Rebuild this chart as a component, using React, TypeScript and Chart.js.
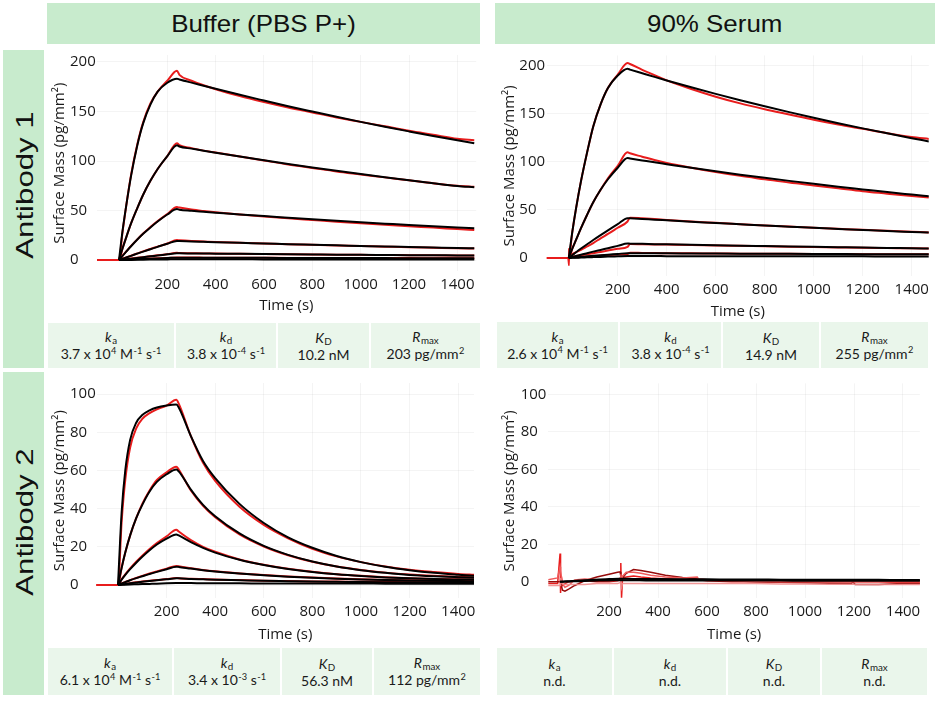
import React, { useEffect, useRef } from 'react';
import { Chart, registerables } from 'chart.js';
Chart.register(...registerables);

// ---------- shared time axis (s) ----------
const TIME = [-90, 0, 15, 30, 50, 75, 100, 130, 160, 200, 240, 250, 300, 350, 400, 500, 600, 700, 800, 900, 1000, 1100, 1200, 1300, 1400, 1470];
const X_TICKS = [200, 400, 600, 800, 1000, 1200, 1400];
const Y_TICKS_200 = [0, 50, 100, 150, 200];
const Y_TICKS_100 = [0, 20, 40, 60, 80, 100];

// ---------- Antibody 1, buffer ----------
const ab1BufFit1 = [null, 0, 30, 55, 85, 115, 138, 157, 170, 179, 183, 182.3, 179.1, 176, 172.9, 166.8, 161, 155.3, 149.9, 144.6, 139.5, 134.6, 129.9, 125.3, 120.9, 118];
const ab1BufFit2 = [null, 0, 12, 23, 37, 52, 66, 80, 92, 105, 116, 114.6, 112.5, 110.4, 108.4, 104.5, 100.7, 97, 93.5, 90.1, 86.8, 83.6, 80.6, 77.6, 74.8, 73.5];
const ab1BufFit3 = [null, 0, 4.3, 8.5, 14, 20.5, 26.5, 33, 39, 46, 51.5, 50.8, 49.7, 48.8, 47.9, 46.1, 44.4, 42.8, 41.2, 39.7, 38.2, 36.8, 35.4, 34.1, 32.9, 32.1];
const ab1BufFit4 = [null, 0, 1.3, 2.6, 4.3, 6.5, 8.6, 11, 13.4, 16.5, 19.3, 19.2, 18.9, 18.5, 18.1, 17.4, 16.8, 16.1, 15.5, 14.9, 14.3, 13.7, 13.2, 12.7, 12.2, 11.9];
const ab1BufFit5 = [null, 0, 0.5, 0.9, 1.5, 2.2, 2.9, 3.8, 4.6, 5.8, 6.9, 6.8, 6.7, 6.6, 6.5, 6.3, 6.1, 5.9, 5.7, 5.5, 5.4, 5.2, 5, 4.9, 4.7, 4.6];
const ab1BufFit6 = [null, 0, 0.2, 0.4, 0.6, 0.9, 1.1, 1.4, 1.7, 2.1, 2.5, 2.5, 2.5, 2.4, 2.4, 2.3, 2.3, 2.2, 2.1, 2.1, 2, 2, 1.9, 1.9, 1.8, 1.8];
const ab1BufFit7 = [null, 0, 0.1, 0.1, 0.2, 0.3, 0.4, 0.5, 0.6, 0.7, 0.8, 0.8, 0.8, 0.8, 0.8, 0.8, 0.7, 0.7, 0.7, 0.7, 0.7, 0.7, 0.6, 0.6, 0.6, 0.6];
const ab1BufData1 = [0, 0, 29, 55, 86, 116, 139, 158, 170, 181, 191, 187, 181, 176.5, 172.5, 165.5, 159.5, 154, 149, 144, 139.5, 135, 130.5, 126.5, 122.5, 121];
const ab1BufData2 = [0, 0, 12, 23, 37, 52, 66, 80, 92, 105, 118, 116, 113, 110.5, 108.5, 104.5, 100.5, 96.5, 93, 89.5, 86.5, 83.5, 80.5, 77.5, 75, 74];
const ab1BufData3 = [0, 0, 4.5, 8.7, 14.3, 20.7, 26.8, 33.3, 39.4, 46.5, 53.5, 53, 51, 49.5, 48.2, 46, 44, 42.2, 40.5, 38.8, 37.2, 35.7, 34.2, 32.8, 31.3, 30.3];
const ab1BufData4 = [0, 0, 1.4, 2.7, 4.4, 6.6, 8.8, 11.2, 13.6, 16.8, 20.2, 20, 19.3, 18.8, 18.3, 17.5, 16.8, 16.1, 15.4, 14.8, 14.2, 13.6, 13, 12.5, 12, 11.7];
const ab1BufData5 = [0, 0, 0.5, 1, 1.6, 2.3, 3, 3.9, 4.8, 6, 7.3, 7.1, 6.9, 6.7, 6.6, 6.3, 6.1, 5.9, 5.7, 5.5, 5.3, 5.1, 5, 4.8, 4.7, 4.6];
const ab1BufData6 = [0, 0, 0.2, 0.4, 0.7, 1, 1.2, 1.5, 1.8, 2.2, 2.7, 2.6, 2.6, 2.5, 2.4, 2.4, 2.3, 2.2, 2.2, 2.1, 2.1, 2, 2, 1.9, 1.9, 1.8];

// ---------- Antibody 1, 90% serum ----------
const ab1SerFit1 = [null, 0, 28, 52, 80, 110, 137, 160, 177, 190, 197, 196.2, 192.4, 188.6, 184.9, 177.8, 170.9, 164.3, 158, 151.9, 146, 140.4, 135, 129.8, 124.8, 121.4];
const ab1SerFit2 = [null, 0, 10, 19, 31, 45, 58, 71, 82, 94, 104, 103.6, 101.6, 99.6, 97.7, 93.9, 90.3, 86.8, 83.5, 80.3, 77.2, 74.2, 71.4, 68.6, 66, 64.2];
const ab1SerFit3 = [null, 0, 3, 6, 9.8, 14.3, 18.7, 23.8, 28.8, 35.3, 41.5, 41.4, 40.7, 39.9, 39.2, 37.8, 36.4, 35.1, 33.8, 32.6, 31.4, 30.3, 29.2, 28.1, 27.1, 26.4];
const ab1SerFit4 = [null, 0, 1, 2, 3.4, 5, 6.6, 8.4, 10.2, 12.6, 15, 14.9, 14.7, 14.4, 14.2, 13.7, 13.3, 12.8, 12.4, 12, 11.6, 11.2, 10.8, 10.5, 10.1, 9.9];
const ab1SerFit5 = [null, 0, 0.4, 0.7, 1.1, 1.7, 2.2, 2.8, 3.4, 4.2, 5, 5, 4.9, 4.9, 4.8, 4.7, 4.6, 4.5, 4.4, 4.3, 4.2, 4.1, 4, 4, 3.9, 3.8];
const ab1SerFit6 = [null, 0, 0.1, 0.3, 0.4, 0.7, 0.9, 1.1, 1.4, 1.7, 2, 2, 2, 2, 1.9, 1.9, 1.9, 1.8, 1.8, 1.8, 1.7, 1.7, 1.7, 1.6, 1.6, 1.6];
const ab1SerData1 = [0, 0, 28, 52, 80, 110, 137, 160, 177, 191, 203, 202, 196, 190.5, 185, 176, 168, 161, 155, 149.5, 144, 139, 134.5, 130, 126, 124];
const ab1SerData2 = [0, 0, 10, 19, 31, 45, 58, 71, 83, 96, 110, 109, 105.5, 102, 99, 94, 89.5, 85.5, 82, 78.5, 75.5, 72.5, 69.5, 67, 64.5, 63];
const ab1SerData3 = [0, 0, 4, 6, 8.5, 12, 15.5, 20.5, 25, 31.5, 38, 42, 41.3, 40.5, 39.6, 38, 36.6, 35.2, 33.9, 32.7, 31.5, 30.4, 29.3, 28.3, 27.3, 26.6];
const ab1SerData4 = [0, 0, 1.5, 2, 2.8, 3.8, 4.9, 6.3, 7.7, 9.5, 11.5, 14.5, 14.3, 14.1, 13.9, 13.5, 13, 12.6, 12.2, 11.8, 11.4, 11, 10.6, 10.3, 10, 9.8];
const ab1SerData5 = [0, 0, 1, 0.8, 1, 1.4, 1.8, 2.3, 2.8, 3.5, 4.2, 5.5, 5.3, 5.1, 5, 4.8, 4.7, 4.5, 4.4, 4.3, 4.2, 4.1, 4, 3.9, 3.9, 3.8];
const SER_SPIKE_TIME = [-3, 0, 1, 3, 6];
const ab1SerSpike = [0, 10, -8, 3, 1];

// ---------- Antibody 2, buffer ----------
const ab2BufFit1 = [null, 0, 38, 60, 76, 85, 89, 91.5, 93, 94, 94.5, 93, 78, 65, 56, 42.5, 32.5, 25, 19.5, 15.2, 12, 9.6, 7.8, 6.4, 5.4, 4.8];
const ab2BufFit2 = [null, 0, 9, 17, 26, 35, 42, 49, 54, 58, 60.5, 59.5, 50, 42, 36, 27, 20.5, 15.8, 12.3, 9.7, 7.8, 6.4, 5.3, 4.6, 4.1, 3.8];
const ab2BufFit3 = [null, 0, 2.8, 5.3, 8.3, 11.7, 14.8, 18.2, 21.2, 24.3, 26.5, 26, 22.5, 19.5, 17, 13.2, 10.5, 8.4, 6.8, 5.6, 4.7, 4, 3.5, 3.1, 2.9, 2.8];
const ab2BufFit4 = [null, 0, 0.8, 1.5, 2.5, 3.6, 4.6, 5.8, 6.9, 8.3, 9.6, 9.5, 8.6, 7.8, 7.1, 6, 5.1, 4.4, 3.8, 3.3, 2.9, 2.6, 2.4, 2.2, 2.1, 2];
const ab2BufFit5 = [null, 0, 0.3, 0.6, 0.9, 1.3, 1.7, 2.1, 2.5, 3, 3.5, 3.5, 3.2, 3, 2.8, 2.5, 2.2, 2, 1.8, 1.7, 1.6, 1.5, 1.4, 1.4, 1.3, 1.3];
const ab2BufFit6 = [null, 0, 0.1, 0.2, 0.3, 0.4, 0.5, 0.6, 0.7, 0.9, 1, 1, 1, 0.9, 0.9, 0.9, 0.8, 0.8, 0.8, 0.8, 0.8, 0.7, 0.7, 0.7, 0.7, 0.7];
const ab2BufData1 = [0, 0, 33, 55, 72, 82, 87, 90, 92, 94, 97, 95, 78, 64, 54.5, 41, 31.5, 24.5, 19, 15, 12, 9.7, 8, 6.8, 5.8, 5.3];
const ab2BufData2 = [0, 0, 9, 17, 26, 35, 42.5, 49.5, 55, 59, 62, 60.5, 49.5, 41.5, 35.5, 26.5, 20.2, 15.6, 12.2, 9.7, 7.9, 6.5, 5.5, 4.8, 4.3, 4];
const ab2BufData3 = [0, 0, 3, 5.6, 8.7, 12.2, 15.4, 18.9, 22, 25.5, 29, 28, 23.5, 20, 17.4, 13.4, 10.6, 8.5, 6.9, 5.7, 4.8, 4.1, 3.6, 3.2, 3, 2.9];
const ab2BufData4 = [0, 0, 0.8, 1.6, 2.6, 3.7, 4.8, 6, 7.1, 8.6, 10, 9.8, 8.8, 7.9, 7.2, 6.1, 5.2, 4.5, 3.9, 3.4, 3, 2.7, 2.5, 2.3, 2.2, 2.1];
const ab2BufData5 = [0, 0, 0.3, 0.6, 1, 1.4, 1.8, 2.2, 2.6, 3.1, 3.7, 3.6, 3.3, 3.1, 2.9, 2.6, 2.3, 2.1, 1.9, 1.8, 1.7, 1.6, 1.5, 1.5, 1.4, 1.4];

// ---------- Antibody 2, 90% serum ----------
const ab2SerFit1 = [null, 0, 0.1, 0.2, 0.4, 0.6, 0.8, 1, 1.2, 1.4, 1.6, 1.6, 1.5, 1.5, 1.4, 1.3, 1.3, 1.2, 1.2, 1.1, 1.1, 1.0, 1.0, 1.0, 0.9, 0.9];
const ab2SerFit2 = [null, 0, 0.05, 0.1, 0.2, 0.3, 0.4, 0.5, 0.6, 0.7, 0.8, 0.8, 0.8, 0.7, 0.7, 0.7, 0.6, 0.6, 0.6, 0.6, 0.5, 0.5, 0.5, 0.5, 0.5, 0.5];
const NOISE_TIME = [-50, -10, 0, 2, 5, 10, 20, 35, 60, 100, 150, 200, 235, 245, 248, 251, 255, 270, 300, 330, 370, 430, 500, 560, 565, 600, 700, 800, 900, 1000, 1100, 1190, 1195, 1205, 1300, 1400, 1470];
const ab2SerNoiseA = [-1, -1, 15, -6, 3, -2, -1, 0, 0.5, 0.5, 0, 0, 0.5, 1, 10, -8.5, 2, 2.5, 3, 2.5, 2, 1.5, 1, 1, 1, 0.5, 0, 0, 0, 0, 0, 0, 0, 0, 0, -0.5, -0.5];
const ab2SerNoiseB = [0, 0, 0, 1, -2, -4.5, -5, -4, -2, 0.5, 2.5, 4, 5, 5.3, 3, 1, 2, 4.5, 6.5, 6, 5, 3.5, 2.2, 1.5, 1.3, 1, 0.5, 0, -0.3, -0.5, -0.8, -1, 0, -1.5, -1.5, -1, -1];
const ab2SerNoiseC = [1, 2, 8, 6, 3, -1, -3, -2, 1, 1.5, 1, 0.5, 1, 2, 4, 0, 3, 5, 5, 4.5, 3.5, 2.5, 2, 2.5, 1.5, 1, 0.5, 0.2, 0, 0, 0, 0, 0, 0, 0, 0, 0];
const ab2SerNoiseD = [-2, -2, -2, 2, 0, -1, -1.5, -1.5, -1.5, -1.5, -1, -1, -1, -0.5, 2, -3, -1, -1, -1, -1, -1, -1, -1, -1, -1, -1, -1, -1, -1.2, -1.2, -1.3, -1.3, -1.3, -1.4, -1.5, -1.5, -1.5];

// ---------- table values ----------
const PARAM_LABELS = ['k|a', 'k|d', 'K|D', 'R|max'];
const ab1BufParams = ['3.7 x 10^{4} M^{-1} s^{-1}', '3.8 x 10^{-4} s^{-1}', '10.2 nM', '203 pg/mm^{2}'];
const ab1SerParams = ['2.6 x 10^{4} M^{-1} s^{-1}', '3.8 x 10^{-4} s^{-1}', '14.9 nM', '255 pg/mm^{2}'];
const ab2BufParams = ['6.1 x 10^{4} M^{-1} s^{-1}', '3.4 x 10^{-3} s^{-1}', '56.3 nM', '112 pg/mm^{2}'];
const ab2SerParams = ['n.d.', 'n.d.', 'n.d.', 'n.d.'];

const RED = 'rgb(232,28,28)';
const HEADER_GREEN = '#c8ebcd';
const TABLE_GREEN = '#eaf6eb';
const GRID = 'rgba(0,0,0,0.045)';
const TICK_FONT = { family: 'Open Sans', size: 15 };
const TITLE_FONT = { family: 'Open Sans', size: 15 };

type RedSeries = { time: number[]; vals: number[]; color: string; width?: number; smooth?: boolean };
type PanelCfg = {
  left: number; top: number; w: number; h: number;
  xMin: number; xMax: number; yMin: number; yMax: number; yTicks: number[];
  pad: { left: number; right: number; top: number; bottom: number };
  yW: number; xH: number; yTitlePad: number; xTitlePad: number;
  fits: (number | null)[][]; reds: RedSeries[];
};

const panels: PanelCfg[] = [
  {
    left: 48, top: 46, w: 434, h: 276, xMin: -93, xMax: 1478, yMin: -11.4, yMax: 207, yTicks: Y_TICKS_200,
    pad: { left: 22, right: 5.8, top: 7, bottom: 0 }, yW: 26.5, xH: 50.6, yTitlePad: -19, xTitlePad: 7.3,
    fits: [ab1BufFit1, ab1BufFit2, ab1BufFit3, ab1BufFit4, ab1BufFit5, ab1BufFit6, ab1BufFit7],
    reds: [ab1BufData1, ab1BufData2, ab1BufData3, ab1BufData4, ab1BufData5, ab1BufData6].map(v => ({ time: TIME, vals: v, color: RED, smooth: true })),
  },
  {
    left: 495, top: 46, w: 440, h: 276, xMin: -90, xMax: 1470, yMin: -19.2, yMax: 211, yTicks: Y_TICKS_200,
    pad: { left: 24.3, right: 6.15, top: 9.4, bottom: 0 }, yW: 27.4, xH: 45.6, yTitlePad: -18.3, xTitlePad: 1.3,
    fits: [ab1SerFit1, ab1SerFit2, ab1SerFit3, ab1SerFit4, ab1SerFit5, ab1SerFit6],
    reds: [
      ...[ab1SerData1, ab1SerData2, ab1SerData3, ab1SerData4, ab1SerData5].map(v => ({ time: TIME, vals: v, color: RED, smooth: true })),
      { time: SER_SPIKE_TIME, vals: ab1SerSpike, color: RED, width: 1.5 },
    ],
  },
  {
    left: 48, top: 372, w: 434, h: 276, xMin: -88, xMax: 1465, yMin: -7, yMax: 105.8, yTicks: Y_TICKS_100,
    pad: { left: 22, right: 8, top: 11, bottom: 0 }, yW: 26.6, xH: 49.6, yTitlePad: -19, xTitlePad: 4,
    fits: [ab2BufFit1, ab2BufFit2, ab2BufFit3, ab2BufFit4, ab2BufFit5, ab2BufFit6],
    reds: [ab2BufData1, ab2BufData2, ab2BufData3, ab2BufData4, ab2BufData5].map(v => ({ time: TIME, vals: v, color: RED, smooth: true })),
  },
  {
    left: 495, top: 372, w: 440, h: 276, xMin: -48, xMax: 1469, yMin: -8.9, yMax: 105.9, yTicks: Y_TICKS_100,
    pad: { left: 25.7, right: 15.1, top: 11.3, bottom: 0 }, yW: 27.6, xH: 49.6, yTitlePad: -19.7, xTitlePad: 4,
    fits: [ab2SerFit1, ab2SerFit2],
    reds: [
      { time: NOISE_TIME, vals: ab2SerNoiseD, color: 'rgba(240,140,140,0.9)', width: 1.5 },
      { time: NOISE_TIME, vals: ab2SerNoiseC, color: 'rgb(240,90,90)', width: 1.5 },
      { time: NOISE_TIME, vals: ab2SerNoiseB, color: 'rgb(150,10,10)', width: 1.5 },
      { time: NOISE_TIME, vals: ab2SerNoiseA, color: RED, width: 1.5 },
    ],
  },
];

function SensorChart({ cfg }: { cfg: PanelCfg }) {
  const ref = useRef<HTMLCanvasElement>(null);
  useEffect(() => {
    if (!ref.current) return;
    const datasets: any[] = [];
    cfg.fits.forEach(vals => {
      datasets.push({
        data: TIME.map((t, i) => ({ x: t, y: vals[i] })),
        borderColor: '#000', borderWidth: 2, pointRadius: 0,
        cubicInterpolationMode: 'monotone', order: 0, spanGaps: false,
      });
    });
    cfg.reds.forEach(r => {
      datasets.push({
        data: r.time.map((t, i) => ({ x: t, y: r.vals[i] })),
        borderColor: r.color, borderWidth: r.width ?? 2, pointRadius: 0,
        cubicInterpolationMode: r.smooth ? 'monotone' : 'default', tension: 0, order: 1,
      });
    });
    const chart = new Chart(ref.current, {
      type: 'line',
      data: { datasets },
      options: {
        animation: false,
        responsive: false,
        devicePixelRatio: 1,
        layout: { padding: cfg.pad },
        plugins: { legend: { display: false }, tooltip: { enabled: false } },
        scales: {
          x: {
            type: 'linear', min: cfg.xMin, max: cfg.xMax,
            afterBuildTicks: (s: any) => { s.ticks = X_TICKS.map(v => ({ value: v })); },
            afterFit: (s: any) => { s.height = cfg.xH; },
            ticks: { padding: 4, font: TICK_FONT, color: '#1a1a1a', maxRotation: 0, autoSkip: false, callback: (v: any) => String(v) },
            grid: { color: GRID, drawTicks: false },
            border: { display: false },
            title: { display: true, text: 'Time (s)', font: TITLE_FONT, color: '#1a1a1a', padding: { top: 0, bottom: cfg.xTitlePad } },
          },
          y: {
            type: 'linear', min: cfg.yMin, max: cfg.yMax,
            afterBuildTicks: (s: any) => { s.ticks = cfg.yTicks.map(v => ({ value: v })); },
            afterFit: (s: any) => { s.width = cfg.yW; },
            ticks: { crossAlign: 'far', padding: 0, font: TICK_FONT, color: '#1a1a1a', autoSkip: false, callback: (v: any) => String(v) },
            grid: { color: GRID, drawTicks: false },
            border: { display: false },
            title: { display: true, text: 'Surface Mass (pg/mm²)', font: TITLE_FONT, color: '#1a1a1a', padding: { top: cfg.yTitlePad, bottom: 0 } },
          },
        },
      } as any,
    });
    return () => chart.destroy();
  }, [cfg]);
  return (
    <canvas
      ref={ref}
      width={cfg.w}
      height={cfg.h}
      style={{ position: 'absolute', left: cfg.left, top: cfg.top, width: cfg.w, height: cfg.h }}
    />
  );
}

function Rich({ text }: { text: string }) {
  const parts = text.split(/(\^\{[^}]*\})/);
  return (
    <>
      {parts.map((p, i) =>
        p.startsWith('^{') ? (
          <span key={i} style={{ fontSize: '0.66em', position: 'relative', top: '-0.55em', marginLeft: 0.5 }}>{p.slice(2, -1)}</span>
        ) : (
          <span key={i}>{p}</span>
        )
      )}
    </>
  );
}

function Label({ text }: { text: string }) {
  const [main, sub] = text.split('|');
  return (
    <span>
      <i>{main}</i>
      <span style={{ fontSize: '0.7em', position: 'relative', top: '0.25em', marginLeft: 0.5 }}>{sub}</span>
    </span>
  );
}

function ParamTable({ top, height, bounds, values }: { top: number; height: number; bounds: number[]; values: string[] }) {
  return (
    <div style={{ position: 'absolute', left: 0, top, height }}>
      {values.map((v, i) => {
        const x0 = bounds[i] + (i > 0 ? 1 : 0);
        const x1 = bounds[i + 1] - (i < values.length - 1 ? 1 : 0);
        return (
          <div
            key={i}
            style={{
              position: 'absolute', left: x0, top: 0, width: x1 - x0, height,
              background: TABLE_GREEN, display: 'flex', flexDirection: 'column', alignItems: 'center', justifyContent: 'center',
              fontFamily: 'Lato, "Noto Sans", sans-serif', fontSize: 14, lineHeight: '16px', color: '#1a1a1a', paddingTop: 2, boxSizing: 'border-box',
            }}
          >
            <div style={{ whiteSpace: 'nowrap' }}><Label text={PARAM_LABELS[i]} /></div>
            <div style={{ whiteSpace: 'nowrap' }}><Rich text={v} /></div>
          </div>
        );
      })}
    </div>
  );
}

function Header({ left, width, text }: { left: number; width: number; text: string }) {
  return (
    <div style={{
      position: 'absolute', left, top: 3, width, height: 41, background: HEADER_GREEN,
      display: 'flex', alignItems: 'center', justifyContent: 'center',
    }}>
      <span style={{ fontFamily: '"Liberation Sans", Arial, sans-serif', fontSize: 24, color: '#111', display: 'inline-block', transform: 'scaleX(1.08)' }}>{text}</span>
    </div>
  );
}

function SideLabel({ top, height, centerY, text }: { top: number; height: number; centerY: number; text: string }) {
  return (
    <div style={{ position: 'absolute', left: 3, top, width: 41, height, background: HEADER_GREEN }}>
      <span style={{
        position: 'absolute', left: 22, top: centerY - top, whiteSpace: 'nowrap',
        fontFamily: '"Liberation Sans", Arial, sans-serif', fontSize: 24, color: '#111', lineHeight: '24px',
        transform: 'translate(-50%, -50%) rotate(-90deg) scaleX(1.3)',
      }}>{text}</span>
    </div>
  );
}

export default function App() {
  return (
    <div style={{ position: 'fixed', left: 0, top: 0, width: 940, height: 703, background: '#fff', overflow: 'hidden' }}>
      <Header left={47} width={433} text="Buffer (PBS P+)" />
      <Header left={495} width={440} text="90% Serum" />
      <SideLabel top={50} height={318} centerY={185} text="Antibody 1" />
      <SideLabel top={372} height={323} centerY={522} text="Antibody 2" />
      {panels.map((p, i) => <SensorChart key={i} cfg={p} />)}
      <ParamTable top={323} height={45} bounds={[48, 175, 277, 370, 480]} values={ab1BufParams} />
      <ParamTable top={322} height={46} bounds={[497, 619, 722, 820, 928]} values={ab1SerParams} />
      <ParamTable top={648} height={47} bounds={[48, 173, 281, 373, 480]} values={ab2BufParams} />
      <ParamTable top={648} height={47} bounds={[497, 613, 727, 821, 927]} values={ab2SerParams} />
    </div>
  );
}
